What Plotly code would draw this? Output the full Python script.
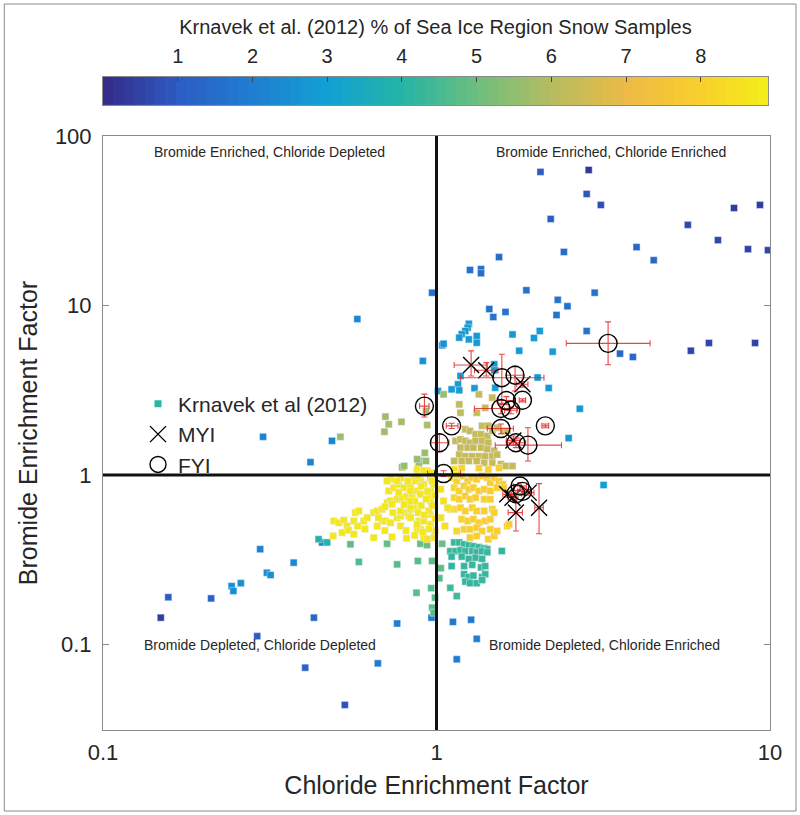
import numpy as np
import plotly.graph_objects as go

# ---------------- Krnavek et al (2012) samples (x = Cl EF, y = Br EF, pct = % of sea-ice-region snow samples)
# dark / medium blue, upper right
blue_hi_x = [2.05, 2.86, 2.82, 3.11, 2.20, 2.41, 1.54, 1.26, 1.36, 1.36, 1.86, 0.97, 2.98, 2.31, 2.47,
             2.29, 1.44, 1.48, 1.61, 2.82, 3.98, 4.48, 5.67, 6.98, 7.80, 9.33, 8.59, 9.86, 3.55, 3.88,
             5.79, 6.56, 9.02]
blue_hi_y = [61.4, 63.0, 45.5, 39.2, 32.4, 20.7, 19.3, 16.2, 16.4, 15.5, 12.3, 11.9, 11.9, 10.8, 9.9,
             8.79, 9.53, 8.55, 9.16, 7.07, 22.1, 18.5, 29.9, 24.3, 37.6, 39.2, 21.5, 21.2, 5.2, 4.97,
             5.41, 6.01, 6.01]
blue_hi_pct = [1.0, 0.3, 0.9, 0.7, 1.0, 1.5, 1.5, 1.6, 1.6, 1.6, 1.6, 1.6, 1.6, 1.7, 1.6,
               1.7, 1.6, 1.7, 1.7, 1.7, 1.3, 1.3, 0.6, 0.6, 0.4, 0.4, 0.5, 0.6, 1.3, 1.3,
               0.5, 0.6, 0.5]

# cyan
cyan_x = [2.69, 2.17, 2.01, 2.23, 1.77, 1.96, 2.04, 1.69, 2.49, 3.17, 0.91, 1.25, 1.24, 1.22, 1.19,
          1.17, 1.25, 1.32, 1.32, 1.04, 1.05, 1.18, 1.16, 1.11, 1.30, 1.17, 1.01, 1.49, 1.50, 1.49]
cyan_y = [2.46, 3.26, 3.76, 5.34, 5.41, 6.43, 7.07, 6.75, 1.65, 0.873, 4.71, 7.8, 7.4, 7.07, 6.77,
          6.46, 6.31, 6.6, 6.03, 5.82, 5.95, 3.84, 3.43, 3.2, 3.25, 3.16, 3.13, 4.5, 3.27, 4.15]
cyan_pct = [2.8, 2.8, 2.8, 2.9, 2.8, 2.9, 2.9, 2.8, 2.7, 3.0, 2.6, 2.8, 2.8, 2.8, 2.8,
            2.8, 2.9, 2.8, 2.8, 2.6, 2.6, 2.9, 2.9, 2.9, 2.9, 2.9, 2.9, 2.9, 2.9, 2.9]

# blue, lower left / bottom
blue_lo_x = [0.373, 0.31, 0.318, 0.243, 0.246, 0.259, 0.157, 0.211, 0.149, 0.429, 0.29, 0.404, 0.531,
             0.667, 0.762, 0.966, 1.12, 1.27, 1.32, 1.15, 0.296, 0.302, 0.486, 0.419, 0.579, 0.454]
blue_lo_y = [0.304, 0.265, 0.257, 0.221, 0.207, 0.23, 0.19, 0.187, 0.144, 0.144, 0.112, 0.073, 0.044,
             0.0774, 0.133, 0.144, 0.136, 0.14, 0.108, 0.0818, 0.365, 1.68, 1.59, 1.19, 8.32, 0.40]
blue_lo_pct = [2.3, 2.5, 2.5, 2.5, 2.5, 2.5, 1.0, 1.2, 0.4, 1.3, 1.0, 1.2, 0.8,
               1.9, 2.0, 2.0, 1.8, 1.8, 2.0, 1.9, 2.1, 2.2, 2.2, 2.2, 2.3, 2.0]

# teal
teal_x = [1.13, 1.17, 1.21, 1.25, 1.29, 1.34, 1.39, 1.42,
          1.10, 1.14, 1.18, 1.22, 1.28, 1.32, 1.37, 1.42,
          1.11, 1.19, 1.25, 1.31, 1.37,
          1.11, 1.21, 1.28, 1.36, 1.40,
          1.21, 1.25, 1.29, 1.37, 1.40,
          1.22, 1.26, 1.32, 1.37,
          1.10, 1.15, 1.57,
          0.443, 0.47]
teal_y = [0.40, 0.40, 0.39, 0.385, 0.38, 0.375, 0.37, 0.365,
          0.355, 0.355, 0.36, 0.355, 0.355, 0.35, 0.355, 0.35,
          0.33, 0.33, 0.32, 0.325, 0.32,
          0.29, 0.29, 0.295, 0.285, 0.29,
          0.26, 0.25, 0.255, 0.25, 0.26,
          0.235, 0.23, 0.23, 0.24,
          0.216, 0.193, 0.356,
          0.418, 0.40]
teal_pct = [4.3, 4.3, 4.3, 4.3, 4.3, 4.3, 4.3, 4.3,
            4.3, 4.3, 4.3, 4.3, 4.3, 4.3, 4.3, 4.3,
            4.2, 4.3, 4.3, 4.3, 4.3,
            4.2, 4.3, 4.3, 4.3, 4.3,
            4.2, 4.2, 4.3, 4.3, 4.3,
            4.2, 4.2, 4.2, 4.3,
            4.4, 4.4, 4.2,
            4.0, 4.0]

# green
green_x = [0.552, 0.711, 0.762, 0.879, 0.585, 0.895, 0.937, 0.97, 0.871, 1.03, 1.02, 0.964,
           0.99, 0.97, 0.98, 1.04]
green_y = [0.39, 0.393, 0.297, 0.311, 0.307, 0.393, 0.386, 0.311, 0.202, 0.282, 0.246, 0.215,
           0.189, 0.165, 0.154, 0.393]
green_pct = [4.8, 4.9, 4.7, 4.7, 4.6, 4.9, 5.0, 4.8, 4.7, 4.8, 4.7, 4.7,
             4.8, 4.8, 4.7, 5.0]

# yellow-green, left of Cl = 1
ygreen_x = [0.515, 0.703, 0.719, 0.698, 0.785, 0.938, 0.922, 0.895, 0.885, 0.789, 1.05, 0.93,
            0.875, 0.93, 0.80]
ygreen_y = [1.68, 2.21, 1.99, 1.80, 2.06, 1.97, 1.35, 1.21, 1.16, 1.11, 2.99, 2.39,
            1.24, 1.21, 1.13]
ygreen_pct = [5.6, 5.7, 5.8, 5.7, 5.8, 5.9, 5.6, 5.6, 5.6, 5.6, 5.6, 5.7,
              5.6, 5.6, 5.6]

# olive
olive_x = [1.34, 1.47, 1.17, 1.18, 1.32, 1.40,
           1.22, 1.26, 1.31, 1.37, 1.43, 1.36, 1.42, 1.47, 1.52, 1.59, 1.63,
           1.14, 1.18, 1.22, 1.26, 1.31, 1.37, 1.43,
           1.18, 1.24, 1.29, 1.36, 1.42, 1.49,
           1.17, 1.22, 1.28, 1.34, 1.40, 1.47, 1.52,
           1.13, 1.19, 1.25, 1.32, 1.39, 1.56, 1.61, 1.69, 1.47]
olive_y = [2.99, 2.86, 2.61, 2.33, 2.33, 2.49,
           1.86, 1.82, 1.74, 1.95, 1.95, 1.74, 1.70, 1.82, 1.90, 1.82, 1.82,
           1.59, 1.62, 1.59, 1.55, 1.59, 1.59, 1.55,
           1.45, 1.45, 1.45, 1.45, 1.42, 1.39,
           1.32, 1.29, 1.29, 1.29, 1.29, 1.29, 1.32,
           1.21, 1.21, 1.21, 1.21, 1.18, 1.16, 1.13, 1.13, 1.18]
olive_pct = [6.3, 6.3, 6.2, 6.2, 6.3, 6.3,
             6.3, 6.3, 6.3, 6.3, 6.3, 6.3, 6.3, 6.3, 6.3, 6.3, 6.3,
             6.3, 6.3, 6.3, 6.3, 6.3, 6.3, 6.3,
             6.3, 6.3, 6.3, 6.3, 6.3, 6.3,
             6.3, 6.3, 6.3, 6.3, 6.3, 6.3, 6.3,
             6.2, 6.3, 6.3, 6.3, 6.3, 6.4, 6.4, 6.4, 6.3]

# orange
orange_x = [1.11, 1.15, 1.19, 1.24, 1.28, 1.32, 1.37, 1.42, 1.45, 1.49, 1.54, 1.58,
            1.13, 1.17, 1.21, 1.25, 1.29, 1.34, 1.39, 1.45, 1.52, 1.59,
            1.13, 1.17, 1.22, 1.26, 1.31, 1.39, 1.45,
            1.13, 1.18, 1.22, 1.28, 1.32, 1.39, 1.47,
            1.19, 1.24, 1.29, 1.34, 1.40, 1.45,
            1.21, 1.26, 1.32, 1.37, 1.45,
            1.26, 1.32, 1.43, 1.49, 1.52, 1.63,
            1.15, 1.10,
            1.43, 1.54, 1.34, 1.19,
            1.65, 1.49]
orange_y = [0.964, 0.922, 0.986, 0.922, 0.964, 0.943, 0.986, 0.964, 0.901, 0.964, 0.922, 0.881,
            0.842, 0.805, 0.861, 0.823, 0.842, 0.805, 0.823, 0.805, 0.842, 0.842,
            0.735, 0.719, 0.751, 0.719, 0.735, 0.719, 0.719,
            0.628, 0.641, 0.613, 0.641, 0.613, 0.613, 0.628,
            0.548, 0.535, 0.548, 0.523, 0.535, 0.548,
            0.478, 0.478, 0.489, 0.467, 0.478,
            0.427, 0.437, 0.418, 0.437, 0.467, 0.50,
            0.467, 0.628,
            1.08, 1.10, 1.10, 1.10,
            0.512, 0.60]
orange_pct = [8.2, 8.1, 8.1, 8.0, 8.0, 8.0, 8.0, 8.0, 8.0, 8.0, 8.0, 8.0,
              8.2, 8.1, 8.0, 8.0, 8.0, 8.0, 8.0, 8.0, 8.0, 8.0,
              8.2, 8.1, 8.0, 8.0, 8.0, 8.0, 8.0,
              8.2, 8.1, 8.0, 8.0, 8.0, 8.0, 8.0,
              8.1, 8.0, 8.0, 8.0, 8.0, 8.0,
              8.1, 8.0, 8.0, 8.0, 8.0,
              8.0, 8.0, 8.0, 8.0, 8.0, 8.0,
              8.3, 8.3,
              8.1, 8.1, 8.1, 8.2,
              8.0, 8.0]

# yellow
yellow_x = [0.492, 0.509, 0.527, 0.539, 0.565, 0.571, 0.585, 0.605, 0.62, 0.648, 0.664, 0.687,
            0.703, 0.728, 0.762, 0.78, 0.798, 0.826, 0.836, 0.855, 0.521, 0.545, 0.565, 0.49,
            0.648, 0.736, 0.813, 0.78, 0.875, 0.885, 0.711, 0.728, 0.762, 0.789, 0.817, 0.845,
            0.875, 0.719, 0.745, 0.77, 0.798, 0.836, 0.728, 0.78, 0.855, 0.895,
            0.916, 0.711, 0.762, 0.895, 0.938, 0.959, 0.959, 0.959, 0.959, 0.959, 0.836, 0.895,
            0.687, 0.664,
            0.78, 0.836, 0.875, 0.916, 0.948, 0.895, 0.836, 0.865, 0.916, 0.982, 0.948, 1.03,
            1.05, 1.08, 1.03, 1.06, 0.982, 0.938, 0.736, 0.875, 0.916, 1.13, 1.15,
            0.86, 0.90, 0.93, 0.88, 0.92, 0.97, 0.99, 0.90, 0.94, 0.97, 0.99, 0.99, 0.95, 0.91,
            0.86, 0.81, 0.70, 0.67, 0.74, 0.70, 0.61, 0.58, 0.83, 0.80, 0.77, 0.82, 0.88, 0.96]
yellow_y = [0.535, 0.523, 0.541, 0.50, 0.535, 0.60, 0.613, 0.535, 0.56, 0.60, 0.613, 0.628,
            0.535, 0.523, 0.56, 0.573, 0.60, 0.573, 0.628, 0.641, 0.457, 0.472, 0.447, 0.437,
            0.427, 0.431, 0.423, 0.50, 0.478, 0.535, 0.687, 0.703, 0.719, 0.735, 0.751, 0.769,
            0.805, 0.805, 0.842, 0.881, 0.842, 0.861, 0.943, 0.964, 0.964, 1.03,
            0.427, 0.922, 0.922, 0.922, 1.06, 0.964, 0.805, 0.703, 0.586, 0.512, 0.56, 0.478,
            0.535, 0.50,
            0.613, 0.656, 0.512, 0.535, 0.613, 0.769, 0.805, 0.922, 0.881, 0.881, 0.751, 0.823,
            0.703, 0.641, 0.56, 0.50, 0.427, 0.418, 0.672, 1.08, 1.06, 1.08, 1.0,
            0.70, 0.66, 0.72, 0.60, 0.58, 0.66, 0.76, 0.86, 0.80, 0.92, 0.55, 0.47, 0.48, 0.46,
            0.44, 0.47, 0.47, 0.56, 0.60, 0.65, 0.48, 0.50, 0.70, 0.67, 0.79, 0.92, 0.99, 1.03]
yellow_pct = [8.7, 8.7, 8.7, 8.7, 8.7, 8.7, 8.7, 8.7, 8.7, 8.7, 8.7, 8.7,
              8.7, 8.7, 8.7, 8.7, 8.7, 8.7, 8.7, 8.7, 8.7, 8.7, 8.7, 8.7,
              8.7, 8.7, 8.7, 8.7, 8.7, 8.7, 8.7, 8.7, 8.7, 8.7, 8.7, 8.7,
              8.7, 8.7, 8.7, 8.7, 8.7, 8.7, 8.7, 8.7, 8.7, 8.6,
              8.7, 8.7, 8.7, 8.7, 8.6, 8.6, 8.6, 8.6, 8.6, 8.6, 8.7, 8.7,
              8.7, 8.7,
              8.7, 8.7, 8.7, 8.7, 8.6, 8.7, 8.7, 8.7, 8.7, 8.6, 8.6, 8.5,
              8.5, 8.5, 8.5, 8.5, 8.6, 8.6, 8.7, 8.7, 8.7, 8.4, 8.4,
              8.7, 8.7, 8.7, 8.7, 8.7, 8.6, 8.6, 8.7, 8.7, 8.6, 8.6, 8.6, 8.7, 8.7,
              8.7, 8.7, 8.7, 8.7, 8.7, 8.7, 8.7, 8.7, 8.7, 8.7, 8.7, 8.7, 8.7, 8.6]

# ---------------- this study: MYI (crosses) and FYI (circles), with error-bar limits
myi_x = [1.27, 1.41, 1.81, 1.70, 1.63, 1.69, 1.89, 1.73, 2.03]
myi_y = [4.46, 4.15, 3.43, 1.60, 0.769, 0.735, 0.787, 0.60, 0.641]
myi_x_lo = [1.13, 1.30, 1.74, 1.62, 1.58, 1.64, 1.82, 1.64, 1.97]
myi_x_hi = [1.42, 1.53, 1.88, 1.78, 1.68, 1.74, 1.96, 1.81, 2.09]
myi_y_lo = [3.84, 3.84, 3.30, 1.50, 0.74, 0.70, 0.76, 0.467, 0.45]
myi_y_hi = [5.40, 4.60, 3.56, 1.70, 0.80, 0.77, 0.82, 0.77, 0.89]

fyi_x = [1.57, 1.72, 1.81, 1.62, 1.56, 1.67, 1.56, 1.73, 1.88, 2.12, 0.92, 1.11, 1.02, 1.05, 3.27, 1.78, 1.81, 1.73]
fyi_y = [3.75, 3.88, 2.76, 2.75, 2.47, 2.41, 1.88, 1.55, 1.50, 1.95, 2.55, 1.95, 1.55, 1.02, 5.98, 0.861, 0.80, 0.775]
fyi_x_lo = [1.18, 1.62, 1.77, 1.52, 1.30, 1.60, 1.42, 1.62, 1.50, 2.07, 0.89, 1.07, 0.96, 0.94, 2.45, 1.70, 1.75, 1.66]
fyi_x_hi = [2.10, 1.82, 1.85, 1.72, 1.75, 1.74, 1.70, 1.85, 2.37, 2.17, 0.95, 1.16, 1.09, 1.18, 4.37, 1.86, 1.87, 1.80]
fyi_y_lo = [2.61, 3.13, 2.70, 2.60, 2.30, 2.30, 1.75, 1.45, 1.21, 1.90, 2.20, 1.88, 1.37, 0.98, 4.47, 0.82, 0.77, 0.74]
fyi_y_hi = [5.16, 4.40, 2.82, 2.90, 2.65, 2.52, 2.00, 1.65, 1.90, 2.00, 3.00, 2.02, 1.74, 1.06, 8.01, 0.90, 0.84, 0.81]

colorbar_ticks = [1, 2, 3, 4, 5, 6, 7, 8]
pct_min, pct_max = 0.0, 8.9
x_ticks = [0.1, 1, 10]
y_ticks = [0.1, 1, 10, 100]

quadrant_labels = ["Bromide Enriched, Chloride Depleted", "Bromide Enriched, Chloride Enriched",
                   "Bromide Depleted, Chloride Depleted", "Bromide Depleted, Chloride Enriched"]

groups = [(blue_hi_x, blue_hi_y, blue_hi_pct), (cyan_x, cyan_y, cyan_pct), (blue_lo_x, blue_lo_y, blue_lo_pct),
          (teal_x, teal_y, teal_pct), (green_x, green_y, green_pct), (ygreen_x, ygreen_y, ygreen_pct),
          (olive_x, olive_y, olive_pct), (orange_x, orange_y, orange_pct), (yellow_x, yellow_y, yellow_pct)]
krn_x, krn_y, krn_c = [], [], []
for gx, gy, gc in groups:
    n = min(len(gx), len(gy), len(gc))
    krn_x += gx[:n]; krn_y += gy[:n]; krn_c += gc[:n]

parula = [[0.0, '#352a87'], [0.112, '#2d5cc4'], [0.225, '#1f7ed0'], [0.337, '#12a0d4'],
          [0.449, '#24b4a6'], [0.562, '#6dbf7f'], [0.674, '#b5bc60'], [0.787, '#edba45'],
          [0.899, '#f9cf2c'], [1.0, '#f4ee1a']]

FONT = "Liberation Sans, Arial, Helvetica, sans-serif"
TXT = "#262626"
AX = "#8a8a8a"

fig = go.Figure()

# colorbar drawn as a heatmap strip on its own axes (labels above the bar)
edges = np.linspace(pct_min, pct_max, 65)
mids = 0.5 * (edges[:-1] + edges[1:])
fig.add_trace(go.Heatmap(x=edges, y=[0, 1], z=[mids], colorscale=parula, zmin=pct_min, zmax=pct_max,
                         showscale=False, xaxis='x2', yaxis='y2', hoverinfo='skip'))

fig.add_trace(go.Scatter(x=krn_x, y=krn_y, mode='markers', showlegend=False,
                         marker=dict(symbol='square', size=7, color=krn_c, colorscale=parula,
                                     cmin=pct_min, cmax=pct_max,
                                     line=dict(width=0.6, color='rgba(235,240,255,0.75)'))))
# legend entry for the Krnavek samples
fig.add_trace(go.Scatter(x=[None], y=[None], mode='markers', name='Krnavek et al (2012)',
                         marker=dict(symbol='square', size=7, color='#2ab7a2')))

err_style = dict(type='data', symmetric=False, color='rgba(228,40,40,0.85)', thickness=1.1, width=3)
fig.add_trace(go.Scatter(
    x=myi_x, y=myi_y, mode='markers', name='MYI',
    marker=dict(symbol='x-thin-open', size=16, color='black', line=dict(width=1.4, color='black')),
    error_x=dict(array=[h - v for h, v in zip(myi_x_hi, myi_x)], arrayminus=[v - l for v, l in zip(myi_x, myi_x_lo)], **err_style),
    error_y=dict(array=[h - v for h, v in zip(myi_y_hi, myi_y)], arrayminus=[v - l for v, l in zip(myi_y, myi_y_lo)], **err_style)))
fig.add_trace(go.Scatter(
    x=fyi_x, y=fyi_y, mode='markers', name='FYI',
    marker=dict(symbol='circle-open', size=18, color='black', line=dict(width=1.4, color='black')),
    error_x=dict(array=[h - v for h, v in zip(fyi_x_hi, fyi_x)], arrayminus=[v - l for v, l in zip(fyi_x, fyi_x_lo)], **err_style),
    error_y=dict(array=[h - v for h, v in zip(fyi_y_hi, fyi_y)], arrayminus=[v - l for v, l in zip(fyi_y, fyi_y_lo)], **err_style)))

# reference lines at EF = 1
fig.add_shape(type='line', xref='x', yref='y domain', x0=1, x1=1, y0=0, y1=1,
              line=dict(color='#111', width=3), layer='above')
fig.add_shape(type='line', xref='x domain', yref='y', x0=0, x1=1, y0=1, y1=1,
              line=dict(color='#111', width=3), layer='above')
# outer figure frame
fig.add_shape(type='rect', xref='paper', yref='paper', x0=-0.148, x1=1.039, y0=-0.1125, y1=1.0083,
              line=dict(color='#8a8a8a', width=1))

qpos = [(-0.50, 1.905), (0.523, 1.905), (-0.53, -1.0), (0.505, -1.0)]
for (qx, qy), txt in zip(qpos, quadrant_labels):
    fig.add_annotation(x=qx, y=qy, xref='x', yref='y', text=txt, showarrow=False,
                       font=dict(family=FONT, size=14, color=TXT))

fig.update_layout(
    template='none',
    width=800, height=815,
    margin=dict(l=103, r=30, t=10, b=85, autoexpand=False),
    paper_bgcolor='white', plot_bgcolor='white',
    font=dict(family=FONT, color=TXT),
    showlegend=True,
    legend=dict(x=0.0525, y=0.481, xanchor='left', yanchor='top', bgcolor='rgba(0,0,0,0)',
                font=dict(family=FONT, size=21, color=TXT), tracegroupgap=0, itemsizing='trace'),
    xaxis=dict(type='log', range=[-1, 1], domain=[0, 1], tickvals=x_ticks, ticktext=['0.1', '1', '10'],
               ticks='inside', ticklen=6, tickcolor=AX, showline=True, linecolor=AX, linewidth=1, mirror='ticks',
               showgrid=False, zeroline=False, tickfont=dict(size=22, color=TXT), automargin=False,
               ticklabelstandoff=3,
               title=dict(text='Chloride Enrichment Factor', font=dict(size=25, color=TXT), standoff=12),
               anchor='y'),
    yaxis=dict(type='log', range=[np.log10(0.0313), 2], domain=[0, 0.825], tickvals=y_ticks,
               ticktext=['0.1', '1', '10', '100'],
               ticks='inside', ticklen=6, tickcolor=AX, showline=True, linecolor=AX, linewidth=1, mirror='ticks',
               showgrid=False, zeroline=False, tickfont=dict(size=22, color=TXT), automargin=False,
               ticklabelstandoff=6,
               title=dict(text='Bromide Enrichment Factor', font=dict(size=25, color=TXT), standoff=10),
               anchor='x'),
    xaxis2=dict(domain=[0, 0.997], range=[pct_min, pct_max], anchor='y2', side='top', tickvals=colorbar_ticks,
                ticks='inside', ticklen=5, tickcolor='#444', showline=True, linecolor=AX, mirror=True,
                showgrid=False, zeroline=False, tickfont=dict(size=20, color=TXT), automargin=False,
                ticklabelstandoff=5,
                title=dict(text='Krnavek et al. (2012) % of Sea Ice Region Snow Samples',
                           font=dict(size=20, color=TXT), standoff=4)),
    yaxis2=dict(domain=[0.868, 0.907], range=[0, 1], anchor='x2', showticklabels=False, ticks='',
                showline=True, linecolor=AX, mirror=True, showgrid=False, zeroline=False, automargin=False),
)

fig.write_html("out.html", config={'displayModeBar': False},
               post_script="document.body.style.margin='0';")
